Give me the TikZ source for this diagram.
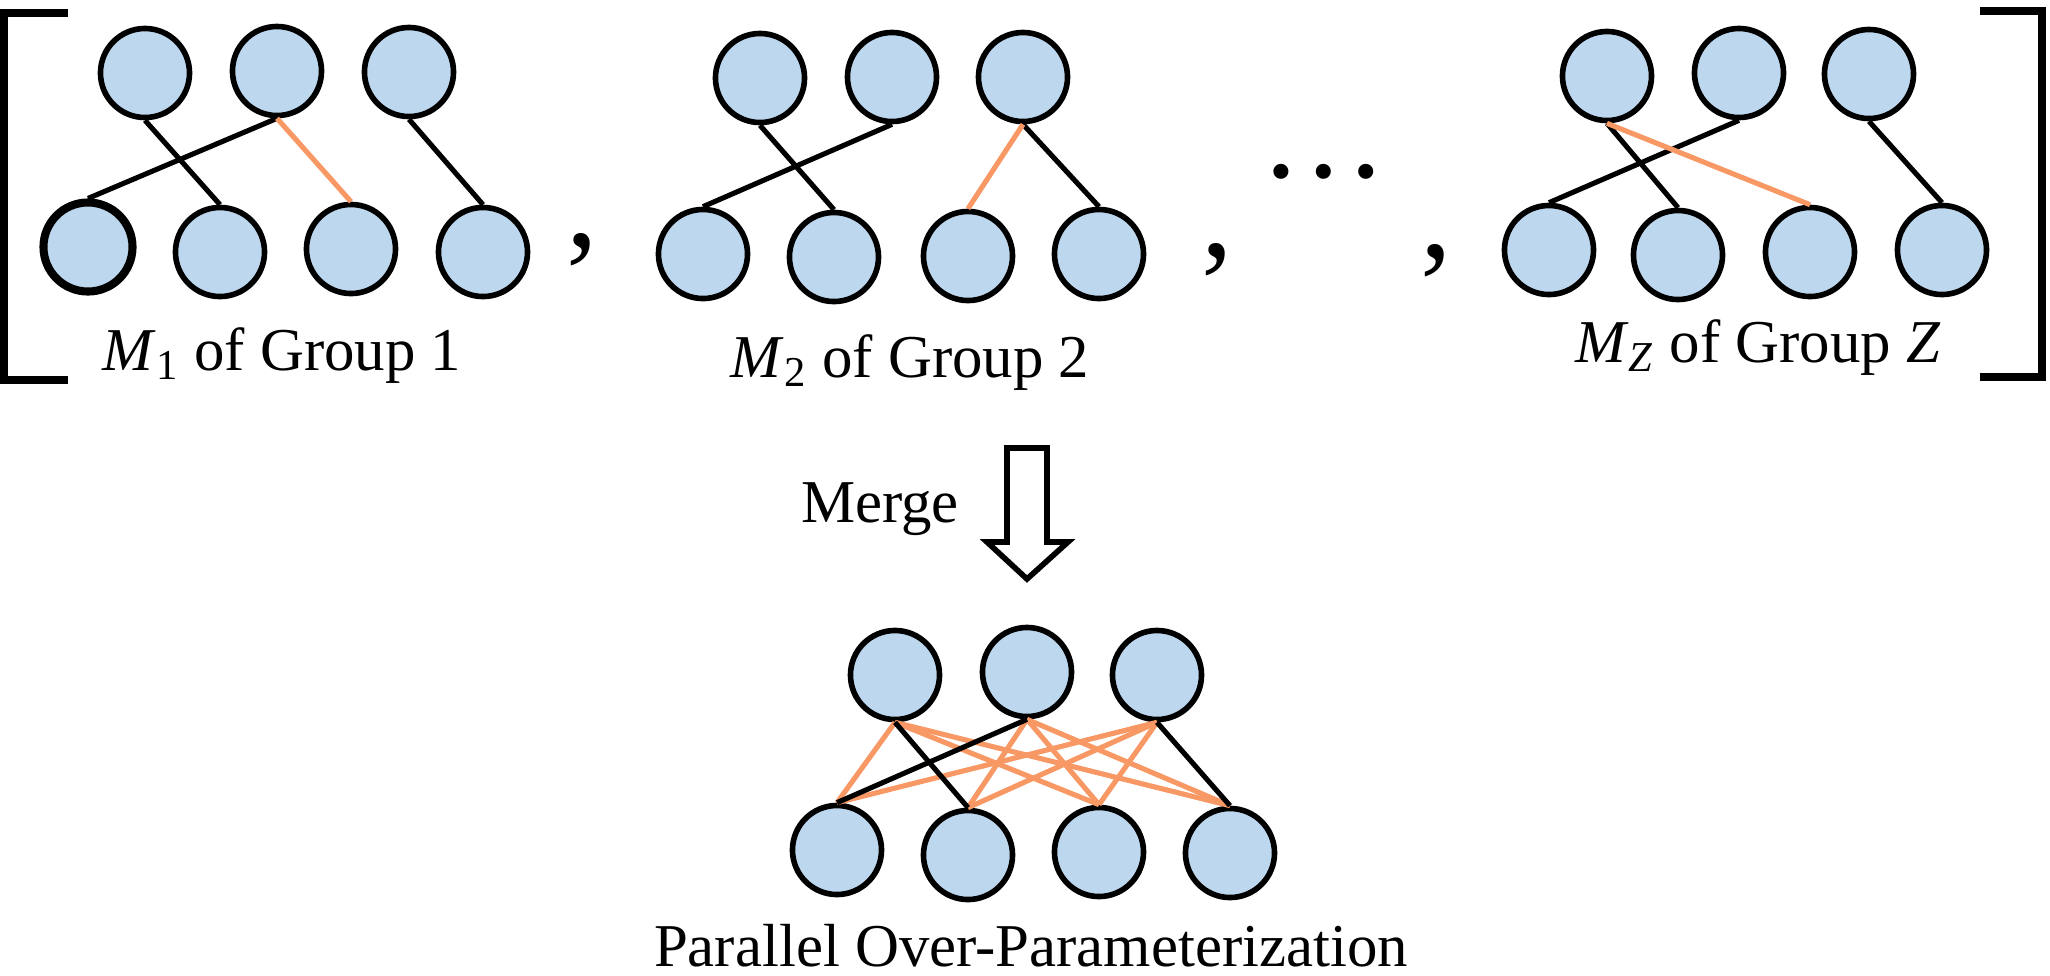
\documentclass[tikz,border=0pt]{standalone}
\usepackage{fontspec}
\setmainfont{Liberation Serif}
\definecolor{nodeblue}{RGB}{189,215,238}
\definecolor{linkorange}{RGB}{248,152,100}
\newcommand{\capsize}{\fontsize{17.3pt}{20pt}\selectfont}
\newcommand{\bigpunct}{\fontsize{36pt}{40pt}\selectfont}
\newcommand{\grouplabel}[2]{\textit{M}\textsubscript{#1} of Group #2}

\begin{document}
\begin{tikzpicture}[x=0.01cm, y=-0.01cm,
    neuron/.style={circle, draw=black, fill=nodeblue, line width=1.6pt,
      minimum size=0.89cm, inner sep=0pt},
    link/.style={line width=1.45pt},
    hot/.style={link, draw=linkorange},
    bracket/.style={line width=2pt, miter limit=10},
    caption/.style={font=\capsize, anchor=base, inner sep=0pt},
    punct/.style={font=\bigpunct, inner sep=0pt}]
  \useasboundingbox (0,0) rectangle (2050,975);

  % group 1
  \draw
    (145,73) node[neuron] (g1t1) {}
    (277,71) node[neuron] (g1t2) {}
    (409,72) node[neuron] (g1t3) {}
    (88,247) node[neuron, line width=2.3pt] (g1b1) {}
    (220,252) node[neuron] (g1b2) {}
    (351,249) node[neuron] (g1b3) {}
    (483,252) node[neuron] (g1b4) {};
  % group 2
  \draw
    (760,78) node[neuron] (g2t1) {}
    (892,77) node[neuron] (g2t2) {}
    (1023,77) node[neuron] (g2t3) {}
    (703,254) node[neuron] (g2b1) {}
    (834,257) node[neuron] (g2b2) {}
    (968,256) node[neuron] (g2b3) {}
    (1099,254) node[neuron] (g2b4) {};
  % group Z
  \draw
    (1607,76) node[neuron] (gzt1) {}
    (1739,73) node[neuron] (gzt2) {}
    (1869,74) node[neuron] (gzt3) {}
    (1549,250) node[neuron] (gzb1) {}
    (1678,255) node[neuron] (gzb2) {}
    (1810,252) node[neuron] (gzb3) {}
    (1942,250) node[neuron] (gzb4) {};
  % merged
  \draw
    (895,675) node[neuron] (mt1) {}
    (1027,672) node[neuron] (mt2) {}
    (1157,675) node[neuron] (mt3) {}
    (837,850) node[neuron] (mb1) {}
    (968,855) node[neuron] (mb2) {}
    (1099,852) node[neuron] (mb3) {}
    (1230,853) node[neuron] (mb4) {};

  \begin{scope}[link]
    \draw (g1t1.south) to (g1b2.north);
    \draw (g1t2.south) to (g1b1.north);
    \draw (g1t3.south) to (g1b4.north);
    \draw[hot] (g1t2.south) to (g1b3.north);
    \draw (g2t1.south) to (g2b2.north);
    \draw (g2t2.south) to (g2b1.north);
    \draw (g2t3.south) to (g2b4.north);
    \draw[hot] (g2t3.south) to (g2b3.north);
    \draw (gzt1.south) to (gzb2.north);
    \draw (gzt2.south) to (gzb1.north);
    \draw (gzt3.south) to (gzb4.north);
    \draw[hot] (gzt1.south) to (gzb3.north);
  \end{scope}

  \begin{scope}[hot]
    \draw (mt1.south) to (mb1.north);
    \draw (mt1.south) to (mb3.north);
    \draw (mt1.south) to (mb4.north);
    \draw (mt2.south) to (mb2.north);
    \draw (mt2.south) to (mb3.north);
    \draw (mt2.south) to (mb4.north);
    \draw (mt3.south) to (mb1.north);
    \draw (mt3.south) to (mb2.north);
    \draw (mt3.south) to (mb3.north);
  \end{scope}
  \begin{scope}[link]
    \draw (mt1.south) to (mb2.north);
    \draw (mt2.south) to (mb1.north);
    \draw (mt3.south) to (mb4.north);
  \end{scope}

  % brackets, separators
  \draw[bracket] (68,13) -- (4,13) -- (4,380) -- (68,380);
  \draw[bracket] (1980,11) -- (2042,11) -- (2042,377) -- (1980,377);
  \node[punct] (comma1) at (582,250) {,};
  \node[punct] (comma2) at (1217,260) {,};
  \node[punct] (comma3) at (1436,261) {,};
  \node[punct] (dots) at (1324,172) {…};

  \node[caption] (lab1) at (282,370) {\grouplabel{1}{1}};
  \node[caption] (lab2) at (910,377) {\grouplabel{2}{2}};
  \node[caption] (labz) at (1758,362) {\grouplabel{\textit{Z}}{\textit{Z}}};

  % merge arrow
  \draw[line width=1.6pt, miter limit=10]
    (1007,448) -- (1047,448) -- (1047,542) -- (1068,542) -- (1027,579)
    -- (987,542) -- (1007,542) -- cycle;
  \node[caption] (merge) at (880,522) {Merge};
  \node[caption] (overparam) at (1031,966) {Parallel Over-Parameterization};
\end{tikzpicture}
\end{document}
